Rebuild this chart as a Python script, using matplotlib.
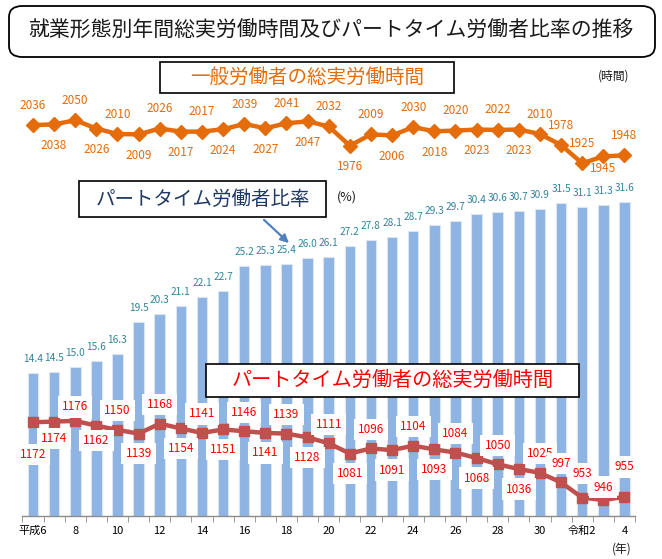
import numpy as np
import matplotlib
matplotlib.use("Agg")
import matplotlib.pyplot as plt
from matplotlib.patches import FancyBboxPatch, Rectangle

plt.rcParams['font.family'] = ['Noto Sans CJK JP', 'DejaVu Sans']

# ---- data ----
years = list(range(1994, 2023))
tick_labels = ['平成6', '8', '10', '12', '14', '16', '18', '20', '22', '24', '26', '28', '30', '令和2', '4']
general_hours = [2036, 2038, 2050, 2026, 2010, 2009, 2026, 2017, 2017, 2024,
                 2039, 2027, 2041, 2047, 2032, 1976, 2009, 2006, 2030, 2018,
                 2020, 2023, 2022, 2023, 2010, 1978, 1925, 1945, 1948]
part_ratio = [14.4, 14.5, 15.0, 15.6, 16.3, 19.5, 20.3, 21.1, 22.1, 22.7,
              25.2, 25.3, 25.4, 26.0, 26.1, 27.2, 27.8, 28.1, 28.7, 29.3,
              29.7, 30.4, 30.6, 30.7, 30.9, 31.5, 31.1, 31.3, 31.6]
part_hours = [1172, 1174, 1176, 1162, 1150, 1139, 1168, 1154, 1141, 1151,
              1146, 1141, 1139, 1128, 1111, 1081, 1096, 1091, 1104, 1093,
              1084, 1068, 1050, 1036, 1025, 997, 953, 946, 955]

# ---- label offsets (pixels, layout only) ----
orange_off = [20 if (i % 2 == 0) else -21 for i in range(29)]
orange_off[25] = 20
orange_off[27] = -12
red_off = [19 if (i % 2 == 0) else -20 for i in range(29)]
red_off[0] = -32
red_off[1] = -17
red_off[2] = 14
red_off[3] = -15
red_off[25] = 19
red_off[26] = 24
red_off[27] = 13
red_off[28] = 30

W, H = 662, 559
fig = plt.figure(figsize=(W / 100, H / 100), dpi=100)
fig.patch.set_facecolor('white')

def fx(px):
    return px / W

def fy(py):
    return 1 - py / H

ax = fig.add_axes([fx(22), fy(516), fx(635) - fx(22), fy(90) - fy(516)])
x = np.arange(len(years))

ax.bar(x, part_ratio, width=0.5, color='#8DB4E2', edgecolor='#DCE6F2', linewidth=0.8, zorder=2)
ax.set_xlim(-0.52, 28.48)
ax.set_ylim(0, 42.9)
for i, v in enumerate(part_ratio):
    ax.annotate(f'{v:.1f}', (x[i], v), xytext=(0, 14), textcoords='offset pixels',
                ha='center', va='center', fontsize=7.3, color='#31849B', zorder=5)

for s in ['top', 'left', 'right']:
    ax.spines[s].set_visible(False)
ax.spines['bottom'].set_color('#8C8C8C')
ax.spines['bottom'].set_linewidth(1.0)
ax.set_yticks([])
ax.set_xticks(x[::2])
ax.set_xticklabels(tick_labels, fontsize=8)
ax.tick_params(axis='x', which='major', length=0, pad=7)
ax.set_xticks(np.arange(-0.5, 29, 1), minor=True)
ax.tick_params(axis='x', which='minor', length=4, color='#8C8C8C', direction='out')

ax2 = ax.twinx()
ax2.set_ylim(899.5, 2138)
ax2.set_yticks([])
for s in ['top', 'left', 'right', 'bottom']:
    ax2.spines[s].set_visible(False)

ax2.plot(x, general_hours, color='#E46C0A', linewidth=3.2, marker='D', markersize=7.5,
         markeredgecolor='#E46C0A', zorder=3)
ax2.plot(x, part_hours, color='#C0504D', linewidth=3.2, marker='s', markersize=7.5,
         markeredgecolor='#C0504D', zorder=3)

for i, v in enumerate(general_hours):
    ax2.annotate(str(v), (x[i], v), xytext=(0, orange_off[i]), textcoords='offset pixels',
                 ha='center', va='center', fontsize=8.5, color='#E46C0A', zorder=6)
for i, v in enumerate(part_hours):
    ax2.annotate(str(v), (x[i], v), xytext=(0, red_off[i]), textcoords='offset pixels',
                 ha='center', va='center', fontsize=8.5, color='#FF0000', zorder=6,
                 bbox=dict(boxstyle='square,pad=0.35', fc='white', ec='none'))

# ---- title box ----
fig.patches.append(FancyBboxPatch((fx(9), fy(57)), fx(655) - fx(9), fy(6) - fy(57),
                                  boxstyle='round,pad=0,rounding_size=0.02',
                                  transform=fig.transFigure, fc='white', ec='black', lw=1.3))
fig.text(fx(331), fy(31), '就業形態別年間総実労働時間及びパートタイム労働者比率の推移',
         ha='center', va='center', fontsize=15, color='#1A1A1A')

# ---- series label boxes ----
def label_box(x0, y0, x1, y1, text, color, size):
    fig.patches.append(Rectangle((fx(x0), fy(y1)), fx(x1) - fx(x0), fy(y0) - fy(y1),
                                 transform=fig.transFigure, fc='white', ec='black', lw=1.2, zorder=10))
    fig.text(fx((x0 + x1) / 2), fy((y0 + y1) / 2), text, ha='center', va='center',
             fontsize=size, color=color, zorder=11)

label_box(160, 62, 454, 93, '一般労働者の総実労働時間', '#E46C0A', 14)
label_box(79, 181, 326, 217, 'パートタイム労働者比率', '#1F3864', 14)
label_box(206, 364, 579, 397, 'パートタイム労働者の総実労働時間', '#FF0000', 14.5)

fig.add_artist(matplotlib.patches.FancyArrowPatch((fx(262), fy(218)), (fx(291), fy(245)),
                                                  transform=fig.transFigure, arrowstyle='-|>',
                                                  mutation_scale=12, color='#4F81BD', lw=1.6))

fig.text(fx(614), fy(76), '(時間)', ha='center', va='center', fontsize=8.5, color='#1A1A1A')
fig.text(fx(347), fy(197), '(%)', ha='center', va='center', fontsize=9, color='#1A1A1A')
fig.text(fx(622), fy(549), '(年)', ha='center', va='center', fontsize=8.5, color='#1A1A1A')

fig.savefig('out.png', dpi=100)
